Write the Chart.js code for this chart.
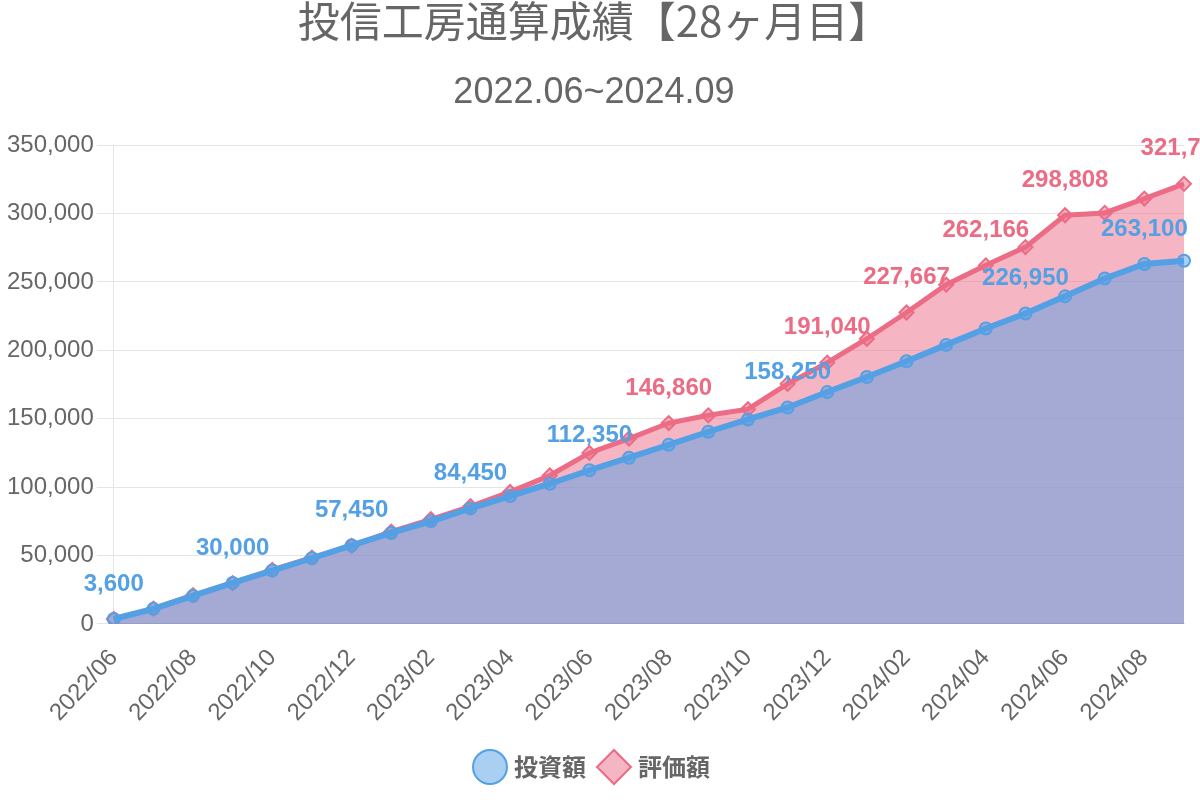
<!DOCTYPE html>
<html>
<head>
<meta charset="utf-8">
<script src="https://cdn.jsdelivr.net/npm/chart.js@4/dist/chart.umd.min.js"></script>
<style>
  html, body { margin: 0; padding: 0; background: #fff; }
  #wrap { width: 1200px; height: 800px; }
</style>
</head>
<body>
<div id="wrap"><canvas id="perfChart"></canvas></div>
<script>
// months 2022/06 .. 2024/09
const months = [
  '2022/06', '2022/07', '2022/08', '2022/09', '2022/10', '2022/11', '2022/12',
  '2023/01', '2023/02', '2023/03', '2023/04', '2023/05', '2023/06', '2023/07',
  '2023/08', '2023/09', '2023/10', '2023/11', '2023/12', '2024/01', '2024/02',
  '2024/03', '2024/04', '2024/05', '2024/06', '2024/07', '2024/08', '2024/09'
];

// 投資額
const invested = [
  3600, 11000, 20500, 30000, 39000, 48000, 57450,
  66500, 75000, 84450, 93500, 102500, 112350, 121500,
  131000, 140500, 149500, 158250, 169500, 180500, 192000,
  204000, 216000, 226950, 239500, 252500, 263100, 265500
];

// 評価額
const valuation = [
  3580, 11200, 21000, 29800, 39500, 48500, 57000,
  67500, 76500, 86000, 96500, 108500, 125000, 135500,
  146860, 152500, 157000, 175500, 191040, 208500, 227667,
  248000, 262166, 275500, 298808, 300500, 311000, 321750
];

// which points carry a value label
const investedLabelIdx = [0, 3, 6, 9, 12, 17, 23, 26];
const valuationLabelIdx = [14, 18, 20, 22, 24, 27];

const yTicks = [0, 50000, 100000, 150000, 200000, 250000, 300000, 350000];

const BLUE = 'rgb(84,160,229)';
const BLUE_FILL = 'rgba(84,160,229,0.5)';
const RED = 'rgb(236,107,133)';
const RED_FILL = 'rgba(236,107,133,0.5)';
const FONT = '"Liberation Sans", Arial, "Noto Sans CJK JP", sans-serif';
const JP_FONT = '"Noto Sans CJK JP", "Liberation Sans", sans-serif';

Chart.defaults.font.family = FONT;
Chart.defaults.color = '#666';

const valueLabels = {
  id: 'valueLabels',
  afterDatasetsDraw(chart) {
    const ctx = chart.ctx;
    chart.data.datasets.forEach((ds, i) => {
      const meta = chart.getDatasetMeta(i);
      ds.labelIdx.forEach(idx => {
        const pt = meta.data[idx];
        ctx.save();
        ctx.font = 'bold 24px ' + FONT;
        ctx.fillStyle = ds.borderColor;
        ctx.textAlign = 'center';
        ctx.textBaseline = 'middle';
        ctx.fillText(ds.data[idx].toLocaleString('en-US'), pt.x, pt.y - 35);
        ctx.restore();
      });
    });
  }
};

const ctx = document.getElementById('perfChart').getContext('2d');
new Chart(ctx, {
  type: 'line',
  data: {
    labels: months,
    datasets: [{
      label: '投資額',
      data: invested,
      labelIdx: investedLabelIdx,
      borderColor: BLUE,
      backgroundColor: BLUE_FILL,
      pointBackgroundColor: BLUE_FILL,
      pointBorderColor: BLUE,
      borderWidth: 6,
      pointRadius: 6,
      pointBorderWidth: 2,
      pointStyle: 'circle',
      fill: 'origin',
      tension: 0
    }, {
      label: '評価額',
      data: valuation,
      labelIdx: valuationLabelIdx,
      borderColor: RED,
      backgroundColor: RED_FILL,
      pointBackgroundColor: RED_FILL,
      pointBorderColor: RED,
      borderWidth: 5,
      pointRadius: 7,
      pointBorderWidth: 2,
      pointStyle: 'rectRot',
      fill: 'origin',
      tension: 0
    }]
  },
  options: {
    responsive: true,
    maintainAspectRatio: false,
    animation: false,
    layout: { padding: { right: 16, left: 4, bottom: 11 } },
    plugins: {
      title: {
        display: true,
        text: '投信工房通算成績【28ヶ月目】',
        font: { size: 42, weight: 'normal', family: JP_FONT, lineHeight: 1.0 },
        padding: { top: 0, bottom: 16 }
      },
      subtitle: {
        display: true,
        text: '2022.06~2024.09',
        font: { size: 36, weight: 'normal' },
        padding: { top: 13, bottom: 31 }
      },
      legend: {
        position: 'bottom',
        labels: {
          usePointStyle: true,
          boxHeight: 24,
          font: { size: 24, weight: 'bold', family: JP_FONT },
          padding: 16
        }
      },
      tooltip: { enabled: false }
    },
    scales: {
      y: {
        min: 0,
        max: 350000,
        afterBuildTicks: axis => { axis.ticks = yTicks.map(v => ({ value: v })); },
        ticks: {
          font: { size: 24 },
          callback: v => v.toLocaleString('en-US')
        },
        grid: { tickLength: 17 }
      },
      x: {
        grid: { display: false },
        ticks: { font: { size: 24 }, padding: 12, autoSkip: true, maxTicksLimit: 14, minRotation: 47, maxRotation: 47 }
      }
    }
  },
  plugins: [valueLabels]
});
</script>
</body>
</html>
